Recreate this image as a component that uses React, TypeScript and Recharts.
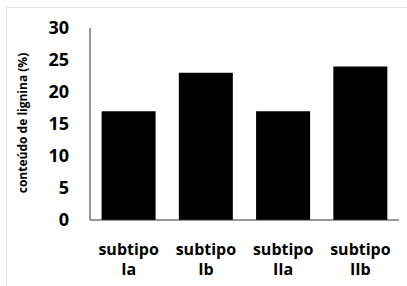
import { BarChart, Bar, XAxis, YAxis, Label } from "recharts";

const categories = ["subtipo Ia", "subtipo Ib", "subtipo IIa", "subtipo IIb"];
const lignina = [17, 23, 17, 24];
const yTicks = [0, 5, 10, 15, 20, 25, 30];

const data = categories.map((name, i) => ({ name, value: lignina[i] }));

const FONT = "'Open Sans', sans-serif";

function CategoryTick({ x, y, payload }: any) {
  const parts = String(payload.value).split(" ");
  return (
    <g transform={`translate(${x},${y})`}>
      {parts.map((p, i) => (
        <text
          key={i}
          x={0}
          y={27 + i * 20}
          textAnchor="middle"
          fill="#000"
          fontFamily={FONT}
          fontWeight={700}
          fontSize={16}
        >
          {p}
        </text>
      ))}
    </g>
  );
}

export default function App() {
  return (
    <div
      style={{
        position: "absolute",
        left: 0,
        top: 0,
        width: 407,
        height: 286,
        background: "#fff",
      }}
    >
      <div
        style={{
          position: "absolute",
          left: 6,
          top: 7,
          right: 0,
          bottom: 0,
          borderLeft: "1px solid #e3e3e3",
          borderTop: "1px solid #e3e3e3",
        }}
      />
      <div style={{ position: "absolute", left: 0, top: 0 }}>
        <BarChart
          width={407}
          height={286}
          data={data}
          margin={{ top: 28, right: 8, bottom: 0, left: 0 }}
          barCategoryGap="15%"
        >
          <XAxis
            dataKey="name"
            axisLine={{ stroke: "#333", strokeWidth: 1 }}
            tickLine={false}
            tick={<CategoryTick />}
            interval={0}
            height={66}
          />
          <YAxis
            width={90}
            domain={[0, 30]}
            ticks={yTicks}
            interval={0}
            axisLine={{ stroke: "#333", strokeWidth: 1 }}
            tickLine={false}
            tickMargin={15}
            tick={{ fill: "#000", fontFamily: FONT, fontWeight: 700, fontSize: 18 }}
          >
            <Label
              content={() => (
                <text
                  x={22}
                  y={123}
                  transform="rotate(-90 22 123)"
                  textAnchor="middle"
                  dominantBaseline="central"
                  fill="#000"
                  fontFamily={FONT}
                  fontWeight={700}
                  fontSize={12}
                >
                  conteúdo de lignina (%)
                </text>
              )}
            />
          </YAxis>
          <Bar dataKey="value" fill="#000" isAnimationActive={false} />
        </BarChart>
      </div>
    </div>
  );
}
